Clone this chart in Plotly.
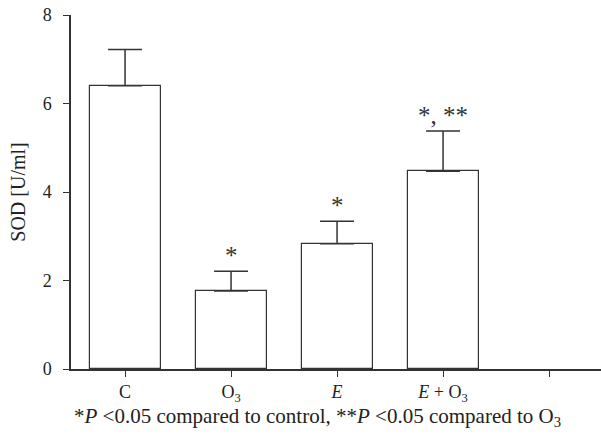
import plotly.graph_objects as go

categories = ["C", "O<sub>3</sub>", "<i>E</i>", "<i>E</i> + O<sub>3</sub>", ""]
sod_mean = [6.40, 1.76, 2.83, 4.47]
sod_err = [0.82, 0.45, 0.51, 0.91]
significance = ["", "*", "*", "*, **"]
footnote = ("*<i>P</i> <0.05 compared to control, **<i>P</i> <0.05 compared to O<sub>3</sub>")

FONT = "Liberation Serif"
LINE = "#333333"

x_pos = list(range(len(sod_mean)))

fig = go.Figure()
fig.add_trace(go.Bar(
    x=x_pos, y=sod_mean, width=0.67,
    marker=dict(color="white", line=dict(color=LINE, width=1.2)),
    error_y=dict(type="data", symmetric=False, array=sod_err,
                 arrayminus=[0] * len(sod_err), color=LINE,
                 thickness=1.5, width=17),
    showlegend=False, hoverinfo="skip",
))

for xi, m, e, s in zip(x_pos, sod_mean, sod_err, significance):
    if s:
        fig.add_annotation(x=xi, y=m + e, text=s, showarrow=False,
                           yanchor="bottom", yshift=0,
                           font=dict(family=FONT, size=25, color=LINE))

fig.add_annotation(x=0.465, y=-0.137, xref="paper", yref="paper",
                   text=footnote, showarrow=False, xanchor="center",
                   yanchor="middle",
                   font=dict(family=FONT, size=21, color="#222"))

fig.update_layout(
    width=601, height=439,
    margin=dict(l=71, r=0, t=15, b=70, autoexpand=False),
    plot_bgcolor="white", paper_bgcolor="white",
    font=dict(family=FONT, size=18, color="#222"),
    bargap=0,
)
fig.update_xaxes(
    range=[-0.51, 4.49], tickvals=list(range(len(categories))),
    ticktext=categories, showline=True, linecolor=LINE, linewidth=1.5,
    ticks="outside", ticklen=6, tickcolor=LINE, showgrid=False,
    zeroline=False, tickfont=dict(family=FONT, size=18), automargin=False,
)
fig.update_yaxes(
    range=[0, 8], tickvals=[0, 2, 4, 6, 8], showline=True, linecolor=LINE,
    linewidth=1.5, ticks="outside", ticklen=6, tickcolor=LINE,
    showgrid=False, zeroline=False, tickfont=dict(family=FONT, size=18),
    ticklabelstandoff=8, automargin=False,
    title=dict(text="SOD [U/ml]", font=dict(family=FONT, size=20), standoff=12),
)

fig.write_html("out.html", config={"displayModeBar": False},
               post_script="document.body.style.margin='0';")
